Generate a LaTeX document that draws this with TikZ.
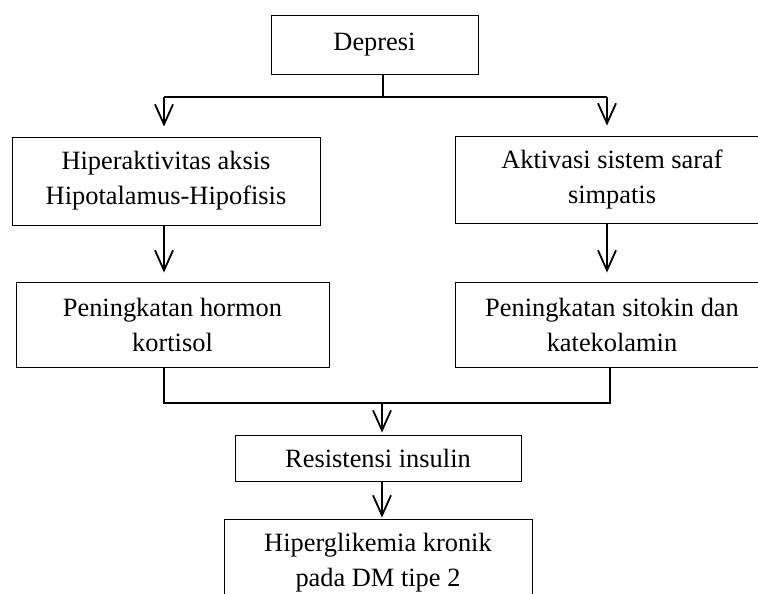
\documentclass[tikz,border=0pt]{standalone}
\usepackage{fontspec}
\setmainfont{Liberation Serif}
\usetikzlibrary{arrows.meta}

\begin{document}
\begin{tikzpicture}[x=1pt,y=-1pt,
    kotak/.style={draw,line width=0.9pt,rectangle,inner sep=0pt,align=center,
        font=\fontsize{26.4}{35}\selectfont},
    garis/.style={line width=1.8pt},
    panah/.style={line width=1.8pt,-{Straight Barb[length=20pt,width=18pt,line width=1.8pt]}}]
% Alur depresi menuju hiperglikemia pada DM tipe 2
\useasboundingbox (0,0) rectangle (758,594);
\clip (0,0) rectangle (758,594);

\node[kotak,minimum width=207pt,minimum height=59pt] (depresi) at (374.5,44.5) {Depresi};
\node[kotak,minimum width=308pt,minimum height=88pt] (hpa) at (166,181) {Hiperaktivitas aksis\\Hipotalamus-Hipofisis};
\node[kotak,minimum width=314pt,minimum height=87pt] (simpatis) at (612,179.5) {Aktivasi sistem saraf\\simpatis};
\node[kotak,minimum width=313pt,minimum height=85pt] (kortisol) at (172.5,324.5) {Peningkatan hormon\\kortisol};
\node[kotak,minimum width=314pt,minimum height=85pt] (sitokin) at (612,324.5) {Peningkatan sitokin dan\\katekolamin};
\node[kotak,minimum width=286pt,minimum height=46pt] (resistensi) at (378,458) {Resistensi insulin};
\node[kotak,minimum width=308pt,minimum height=88pt] (hiper) at (378,563) {Hiperglikemia kronik\\pada DM tipe 2};

% titik cabang dan titik gabung
\coordinate (cabang) at (383,97);
\coordinate (cabangkiri) at (164,97);
\coordinate (cabangkanan) at (607,97);
\coordinate (gabung) at (382,403);
\coordinate (gabungkiri) at (164,403);
\coordinate (gabungkanan) at (610,403);

\draw[garis] (depresi.south -| cabang) -- (cabang);
\draw[garis] (cabangkiri) -- (cabangkanan);
\draw[panah,shorten >=10pt] (cabangkiri) -- (hpa.north -| cabangkiri);
\draw[panah,shorten >=10pt] (cabangkanan) -- (simpatis.north -| cabangkanan);

\draw[panah,shorten >=9pt] (hpa.south -| cabangkiri) -- (kortisol.north -| cabangkiri);
\draw[panah,shorten >=9pt] (simpatis.south -| cabangkanan) -- (sitokin.north -| cabangkanan);

\draw[garis] (kortisol.south -| gabungkiri) -- (gabungkiri) -- (gabungkanan) -- (sitokin.south -| gabungkanan);
\draw[panah,shorten >=2pt] (gabung) -- (resistensi.north -| gabung);
\draw[panah,shorten >=1pt] (resistensi.south -| gabung) -- (hiper.north -| gabung);
\end{tikzpicture}
\end{document}
